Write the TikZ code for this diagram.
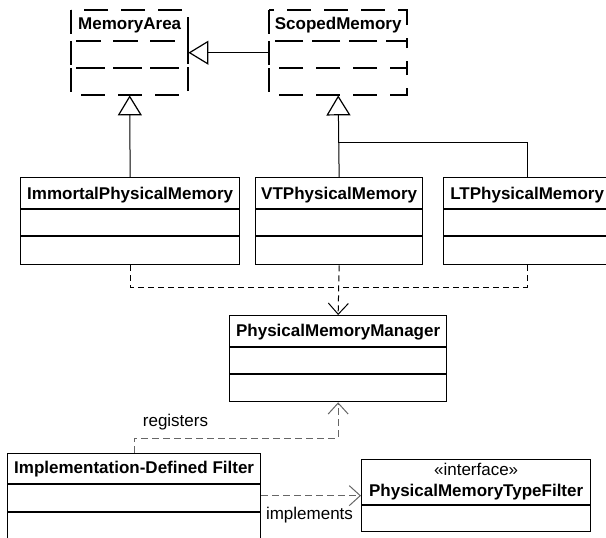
\documentclass[tikz,border=0pt]{standalone}
\usepackage{fontspec}
\setmainfont{Liberation Sans}
\usetikzlibrary{arrows.meta}

\tikzset{
  cls/.style={draw, line width=1.3pt, fill=white, inner sep=0pt, anchor=north west},
  area/.style={inner sep=0pt, anchor=north west},
  absline/.style={line width=1.3pt, dash pattern=on 24pt off 13pt},
  divider/.style={line width=1.3pt},
  title/.style={font=\fontsize{17}{20}\selectfont\bfseries, anchor=base, inner sep=0pt},
  plain/.style={font=\fontsize{17}{20}\selectfont, anchor=base, inner sep=0pt},
  gen/.style={line width=1pt, -{Triangle[open, length=20pt, width=24pt, line width=1.2pt]}},
  genline/.style={line width=1pt},
  dep/.style={line width=1pt, dash pattern=on 6pt off 4pt},
  deparrow/.style={dep, -{Straight Barb[length=11pt, width=20pt, line width=1pt]}},
  grey dep/.style={line width=1pt, draw=black!60, dash pattern=on 7pt off 4pt,
    -{Straight Barb[length=11pt, width=20pt, line width=1pt]}},
}

\begin{document}
\begin{tikzpicture}[x=1pt, y=-1pt]
\useasboundingbox (0,0) rectangle (606,538);
\clip (0,0) rectangle (606,538);

% abstract classes, dashed compartments
\node[area, minimum width=117pt, minimum height=85pt] (ma) at (71,10) {};
\draw[absline] (71,10) rectangle (188,41);
\draw[absline] (71,41) rectangle (188,68);
\draw[absline] (71,68) rectangle (188,95);
\path (ma.north) ++(0,20) node[title] (maT) {MemoryArea};

\node[area, minimum width=138pt, minimum height=85pt] (sc) at (269,10) {};
\draw[absline] (269,10) rectangle (407,41);
\draw[absline] (269,41) rectangle (407,68);
\draw[absline] (269,68) rectangle (407,95);
\path (sc.north) ++(0,20) node[title] (scT) {ScopedMemory};

% concrete memory classes
\node[cls, minimum width=219pt, minimum height=87pt] (imm) at (20,177) {};
\draw[divider] (20,209) -- (239,209);
\draw[divider] (20,236) -- (239,236);
\path (imm.north) ++(0,22) node[title] (immT) {ImmortalPhysicalMemory};

\node[cls, minimum width=167pt, minimum height=87pt] (vt) at (255,177) {};
\draw[divider] (255,209) -- (422,209);
\draw[divider] (255,236) -- (422,236);
\path (vt.north) ++(0,22) node[title] (vtT) {VTPhysicalMemory};

\node[cls, minimum width=167pt, minimum height=87pt] (lt) at (443,177) {};
\draw[divider] (443,209) -- (610,209);
\draw[divider] (443,236) -- (610,236);
\path (lt.north) ++(0,22) node[title] (ltT) {LTPhysicalMemory};

% manager
\node[cls, minimum width=217pt, minimum height=86pt] (pmm) at (229,315) {};
\draw[divider] (229,347) -- (446,347);
\draw[divider] (229,374) -- (446,374);
\path (pmm.north) ++(0,21) node[title] (pmmT) {PhysicalMemoryManager};

% filter and interface
\node[cls, minimum width=253pt, minimum height=110pt] (impl) at (7,453) {};
\draw[divider] (7,484) -- (260,484);
\draw[divider] (7,512) -- (260,512);
\path (impl.north) ++(0,20) node[title] (implT) {Implementation-Defined Filter};

\node[cls, minimum width=229pt, minimum height=72pt] (iface) at (361,459) {};
\draw[divider] (361,505) -- (590,505);
\path (iface.north) ++(0,16) node[plain] (ifaceS) {«interface»};
\path (iface.north) ++(0,37) node[title] (ifaceT) {PhysicalMemoryTypeFilter};

% generalizations
\draw[gen] (sc.west) -- (ma.east);
\draw[gen] (imm.north) -- (ma.south);
\draw[gen] (vt.north) -- (sc.south);
\coordinate (branch) at (338,142);
\draw[genline] (lt.north) |- (branch);

% usage of the manager
\coordinate (merge) at (338,287);
\draw[dep] (imm.south) |- (merge);
\draw[dep] (lt.south) |- (merge);
\draw[deparrow] (vt.south) -- (pmm.north);

% registers / implements
\draw[grey dep] (impl.north) -- ++(0,-15) -| (pmm.south);
\node[plain] (reg) at (175.5,426) {registers};
\draw[grey dep] (iface.west -| impl.east) -- (iface.west);
\node[plain] (impls) at (309.5,519) {implements};
\end{tikzpicture}
\end{document}
